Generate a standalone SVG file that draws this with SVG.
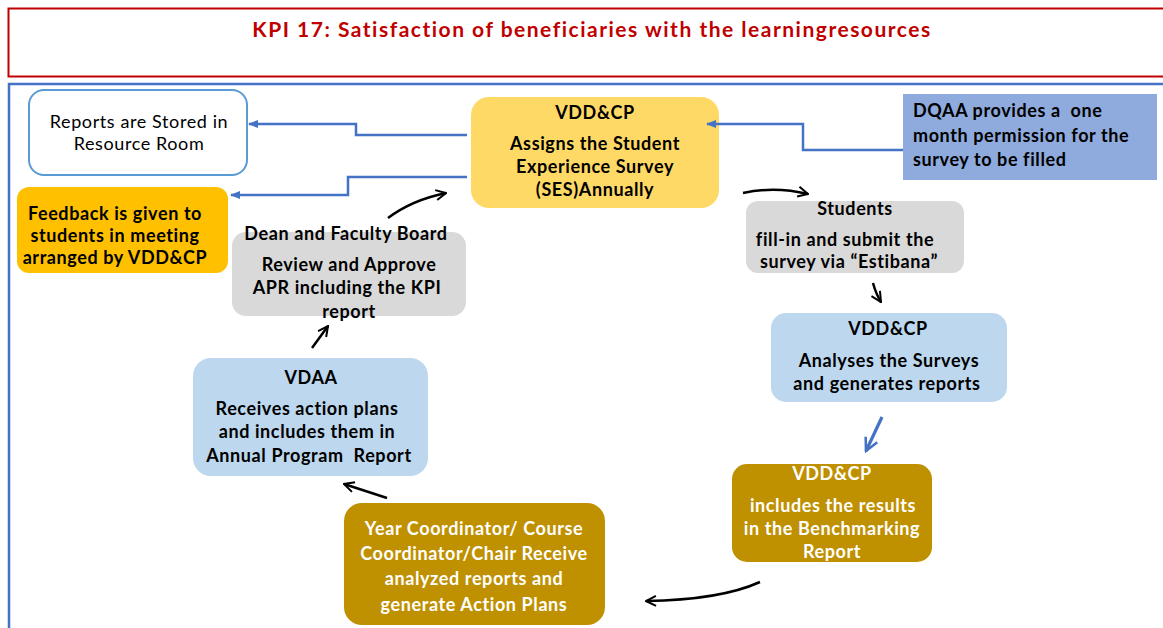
<svg xmlns="http://www.w3.org/2000/svg" width="1163" height="628" viewBox="0 0 1163 628">
<defs>
<style>
text{font-family:Lato,"Liberation Sans",sans-serif;font-size:18px;letter-spacing:0.6px;text-anchor:middle;fill:#000}
.b{font-weight:bold}
.w{fill:#fff}
.blue{fill:none;stroke:#4472c4;stroke-width:2.5}
.blk{fill:none;stroke:#000;stroke-width:2.5}
</style>
<marker id="ab" viewBox="0 0 10 10" refX="9" refY="5" markerWidth="4" markerHeight="4" orient="auto" markerUnits="strokeWidth"><path d="M0,1 L10,5 L0,9 z" fill="#4472c4"/></marker>
<marker id="ak" viewBox="0 0 10 10" refX="9" refY="5" markerWidth="5" markerHeight="5" orient="auto" markerUnits="strokeWidth"><path d="M1,1 L9,5 L1,9" fill="none" stroke="#000" stroke-width="1.6"/></marker>
<marker id="akb" viewBox="0 0 10 10" refX="9" refY="5" markerWidth="5" markerHeight="5" orient="auto" markerUnits="strokeWidth"><path d="M1,1 L9,5 L1,9" fill="none" stroke="#4472c4" stroke-width="1.6"/></marker>
</defs>
<rect width="1163" height="628" fill="#fff"/>
<g id="title">
<rect x="8.5" y="8.5" width="1170" height="68" fill="#fff" stroke="#c00000" stroke-width="2"/>
<text x="592" y="37" class="b" style="font-size:21px;letter-spacing:1.5px;fill:#c00000">KPI 17: Satisfaction of beneficiaries with the learningresources</text>
</g>
<rect id="frame" x="9" y="84" width="1170" height="560" fill="none" stroke="#4472c4" stroke-width="2.5"/>
<g id="n-reports">
<rect x="29" y="90" width="218" height="85" rx="15" fill="#fff" stroke="#5b9bd5" stroke-width="2"/>
<text x="139" y="128">Reports are Stored in</text>
<text x="139" y="150">Resource Room</text>
</g>
<g id="n-feedback">
<rect x="17" y="187" width="211" height="86" rx="12" fill="#ffc000"/>
<text x="115" y="220" class="b">Feedback is given to</text>
<text x="115" y="242" class="b">students in meeting</text>
<text x="115" y="264" class="b">arranged by VDD&amp;CP</text>
</g>
<g id="n-assign">
<rect x="471" y="97" width="248" height="111" rx="18" fill="#ffd966"/>
<text x="595" y="119" class="b">VDD&amp;CP</text>
<text x="595" y="150" class="b">Assigns the Student</text>
<text x="595" y="173" class="b">Experience Survey</text>
<text x="595" y="196" class="b">(SES)Annually</text>
</g>
<g id="n-dqaa">
<rect x="903" y="94" width="254" height="86" fill="#8faadc"/>
<text x="913" y="117" class="b" style="text-anchor:start;white-space:pre" xml:space="preserve">DQAA provides a  one</text>
<text x="913" y="142" class="b" style="text-anchor:start">month permission for the</text>
<text x="913" y="166" class="b" style="text-anchor:start">survey to be filled</text>
</g>
<g id="n-students">
<rect x="746" y="201" width="218" height="72" rx="12" fill="#d9d9d9"/>
<text x="855" y="215" class="b">Students</text>
<text x="845" y="246" class="b">fill-in and submit the</text>
<text x="849" y="268" class="b">survey via “Estibana”</text>
</g>
<g id="n-analyse">
<rect x="771" y="313" width="236" height="89" rx="15" fill="#bdd7ee"/>
<text x="888" y="335" class="b">VDD&amp;CP</text>
<text x="889" y="367" class="b">Analyses the Surveys</text>
<text x="887" y="390" class="b">and generates reports</text>
</g>
<g id="n-bench">
<rect x="732" y="464" width="200" height="98" rx="15" fill="#bf9000"/>
<text x="832" y="480" class="b w">VDD&amp;CP</text>
<text x="833" y="512" class="b w">includes the results</text>
<text x="832" y="535" class="b w">in the Benchmarking</text>
<text x="832" y="558" class="b w">Report</text>
</g>
<g id="n-year">
<rect x="344" y="503" width="261" height="122" rx="18" fill="#bf9000"/>
<text x="474" y="535" class="b w">Year Coordinator/ Course</text>
<text x="474" y="560" class="b w">Coordinator/Chair Receive</text>
<text x="474" y="585" class="b w">analyzed reports and</text>
<text x="474" y="611" class="b w">generate Action Plans</text>
</g>
<g id="n-vdaa">
<rect x="193" y="358" width="235" height="118" rx="18" fill="#bdd7ee"/>
<text x="311" y="384" class="b">VDAA</text>
<text x="307" y="415" class="b">Receives action plans</text>
<text x="307" y="438" class="b">and includes them in</text>
<text x="309" y="462" class="b" style="white-space:pre" xml:space="preserve">Annual Program  Report</text>
</g>
<g id="n-dean">
<rect x="232" y="232" width="234" height="84" rx="14" fill="#d9d9d9"/>
<text x="346" y="240" class="b">Dean and Faculty Board</text>
<text x="349" y="271" class="b">Review and Approve</text>
<text x="347" y="294" class="b">APR including the KPI</text>
<text x="349" y="318" class="b">report</text>
</g>
<g id="connectors">
<path class="blue" d="M467,135 H356 V124 H249" marker-end="url(#ab)"/>
<path class="blue" d="M467,177 H348 V195 H231" marker-end="url(#ab)"/>
<path class="blue" d="M903,150 H803 V124 H707" marker-end="url(#ab)"/>
<path class="blk" d="M388,218 Q412,200 446,193" marker-end="url(#ak)"/>
<path class="blk" d="M743,193 Q775,186 808,194" marker-end="url(#ak)"/>
<path class="blk" d="M873,283 Q876,294 881,302" marker-end="url(#ak)"/>
<path d="M882,417 L866,451" fill="none" stroke="#4472c4" stroke-width="3.2" marker-end="url(#akb)"/>
<path class="blk" d="M760,582 Q720,600 646,601" marker-end="url(#ak)"/>
<path class="blk" d="M387,498 L344,484" marker-end="url(#ak)"/>
<path class="blk" d="M312,348 L328,326" marker-end="url(#ak)"/>
</g>
</svg>
